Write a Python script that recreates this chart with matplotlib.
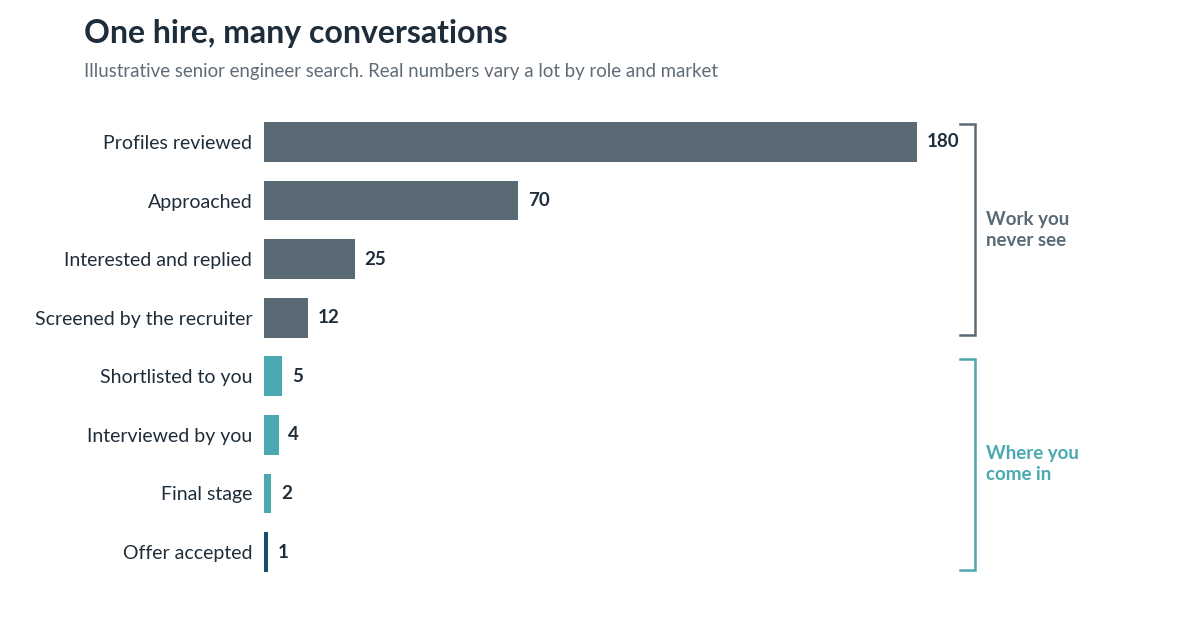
import matplotlib
matplotlib.use("Agg")
import matplotlib.pyplot as plt

# Dados do funil
stages = [
    "Profiles reviewed",
    "Approached",
    "Interested and replied",
    "Screened by the recruiter",
    "Shortlisted to you",
    "Interviewed by you",
    "Final stage",
    "Offer accepted",
]
counts = [180, 70, 25, 12, 5, 4, 2, 1]
groups = ["hidden", "hidden", "hidden", "hidden", "visible", "visible", "visible", "hire"]
bracket_labels = ["Work you\nnever see", "Where you\ncome in"]
bracket_spans = [(0, 3), (4, 7)]

GREY = "#5a6a75"
TEAL = "#4aa9b0"
NAVY = "#134f6b"
TEXT_COLOR = "#1f2d3a"
SUB_COLOR = "#5f6b76"
COLORS = {"hidden": GREY, "visible": TEAL, "hire": NAVY}
BRACKET_COLORS = [GREY, TEAL]

plt.rcParams["font.family"] = ["Lato", "DejaVu Sans"]

fig = plt.figure(figsize=(12, 6.2), dpi=100)
fig.patch.set_facecolor("white")
ax = fig.add_axes([264 / 1200, 1 - 581.3 / 620, 653 / 1200, (581.3 - 112.7) / 620])

ypos = list(range(len(stages)))
ax.barh(ypos, counts, height=0.68, color=[COLORS[g] for g in groups], zorder=2)
ax.set_xlim(0, 180)
ax.set_ylim(len(stages) - 0.5, -0.5)
ax.set_yticks(ypos)
ax.set_yticklabels(stages, fontsize=14, color=TEXT_COLOR)
ax.tick_params(axis="y", length=0, pad=8.5)
ax.set_xticks([])
for s in ax.spines.values():
    s.set_visible(False)

for y, v in zip(ypos, counts):
    ax.annotate(str(v), (v, y), xytext=(7, 0), textcoords="offset points",
                va="center", ha="left", fontsize=13.5, fontweight="bold", color=TEXT_COLOR)

# Colchetes à direita
for (a, b), lab, col in zip(bracket_spans, bracket_labels, BRACKET_COLORS):
    top, bot = a - 0.3, b + 0.3
    trans = ax.get_yaxis_transform()
    x0 = (960 - 264) / 653
    x1 = (975 - 264) / 653
    ax.plot([x0, x1, x1, x0], [top, top, bot, bot], color=col, lw=1.8,
            transform=trans, clip_on=False, solid_joinstyle="miter")
    ax.text((986 - 264) / 653, (a + b) / 2, lab, transform=trans, va="center", ha="left",
            fontsize=13.5, fontweight="bold", color=col, linespacing=1.3)

fig.text(84 / 1200, 1 - 33 / 620, "One hire, many conversations", fontsize=23,
         fontweight="bold", color=TEXT_COLOR, va="center", ha="left")
fig.text(84 / 1200, 1 - 71 / 620,
         "Illustrative senior engineer search. Real numbers vary a lot by role and market",
         fontsize=13.4, color=SUB_COLOR, va="center", ha="left")

fig.savefig("out.png", dpi=100, facecolor="white")
